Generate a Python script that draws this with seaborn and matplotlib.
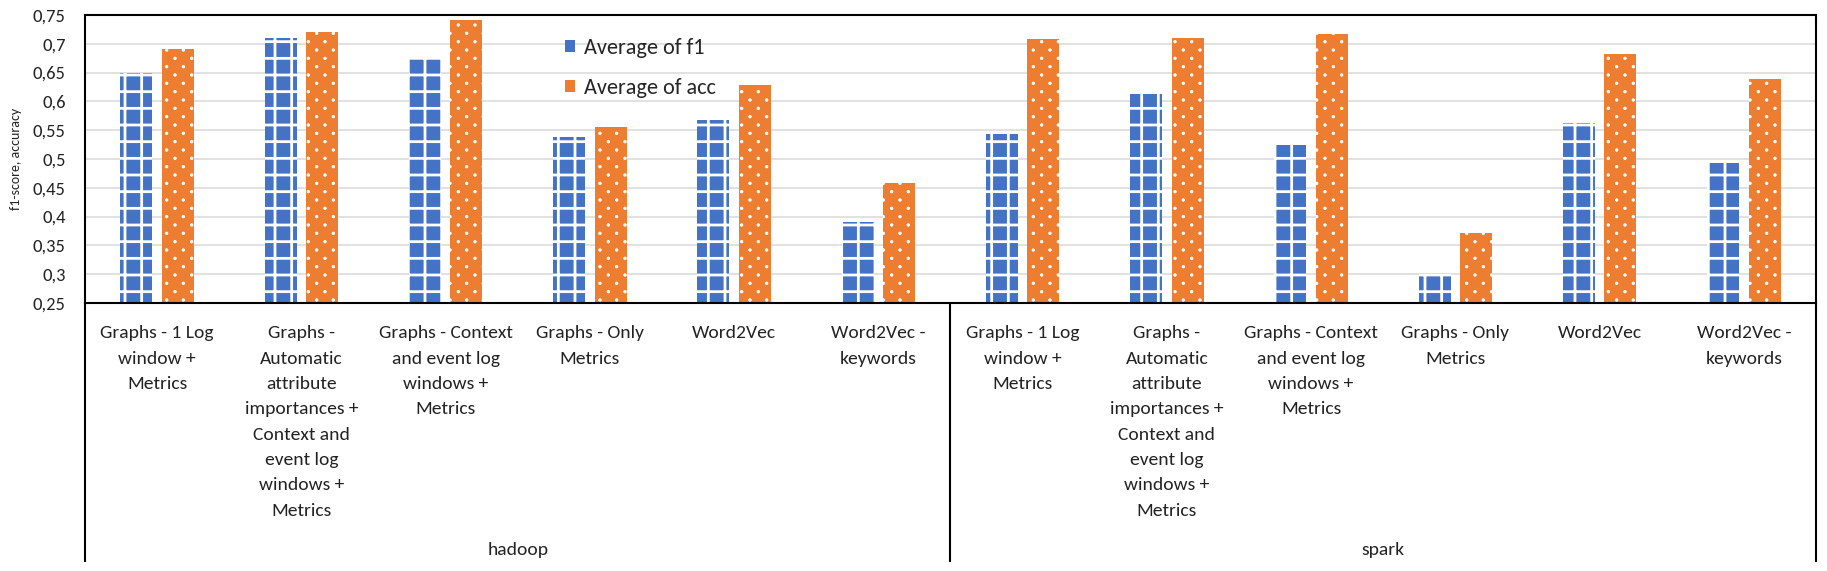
import numpy as np
import pandas as pd
import matplotlib
matplotlib.use("Agg")
import matplotlib.pyplot as plt
import matplotlib.transforms as mtransforms
import matplotlib.hatch as mhatch
from matplotlib.path import Path
from matplotlib import font_manager
from matplotlib.patches import Patch
from matplotlib.ticker import FuncFormatter
import seaborn as sns

# ---------------- data ----------------
groups = ["hadoop", "spark"]
methods = [
    "Graphs - 1 Log\nwindow +\nMetrics",
    "Graphs -\nAutomatic\nattribute\nimportances +\nContext and\nevent log\nwindows +\nMetrics",
    "Graphs - Context\nand event log\nwindows +\nMetrics",
    "Graphs - Only\nMetrics",
    "Word2Vec",
    "Word2Vec -\nkeywords",
]
series_names = ["Average of f1", "Average of acc"]
hadoop_f1 = [0.650, 0.710, 0.675, 0.539, 0.568, 0.390]
hadoop_acc = [0.691, 0.720, 0.742, 0.556, 0.629, 0.458]
spark_f1 = [0.543, 0.612, 0.524, 0.300, 0.563, 0.493]
spark_acc = [0.708, 0.710, 0.717, 0.371, 0.683, 0.639]
y_ticks = [0.25, 0.30, 0.35, 0.40, 0.45, 0.50, 0.55, 0.60, 0.65, 0.70, 0.75]
y_label = "f1-score, accuracy"


# ---------------- custom dotted hatch (staggered, rows twice as dense) ----------------
class StaggeredDots(mhatch.HatchPatternBase):
    size = 0.075

    def __init__(self, hatch, density):
        n = hatch.count(".") * density
        self.ncols = n
        self.nrows = 2 * n
        self.shape = Path.unit_circle()
        self.positions = []
        if n:
            for r in range(self.nrows + 1):
                yy = r / self.nrows
                if r % 2 == 0:
                    xs = np.linspace(0, 1, self.ncols + 1)
                else:
                    xs = np.linspace(0.5 / self.ncols, 1 - 0.5 / self.ncols, self.ncols)
                for xx in xs:
                    self.positions.append((xx, yy))
        self.num_vertices = len(self.positions) * len(self.shape.vertices)

    def set_vertices_and_codes(self, vertices, codes):
        nv = len(self.shape.vertices)
        sv = self.shape.vertices * (self.size / self.ncols)
        cur = 0
        for (xx, yy) in self.positions:
            vertices[cur:cur + nv] = sv + np.array([xx, yy])
            codes[cur:cur + nv] = self.shape.codes
            cur += nv


_orig_types = list(mhatch._hatch_types)
try:
    mhatch._hatch_types[:] = [StaggeredDots if t is mhatch.SmallFilledCircles else t
                              for t in _orig_types]
except Exception:
    mhatch._hatch_types[:] = _orig_types

# ---------------- style ----------------
BLUE = "#4472C4"
ORANGE = "#ED7D31"
sns.set_style("white")
names = {f.name for f in font_manager.fontManager.ttflist}
if "Carlito" in names:
    fam = "Carlito"
    fs_lab, fs_tick, fs_leg, fs_ylab = 14.0, 13.3, 16.0, 10.0
else:
    fam = "Lato" if "Lato" in names else "DejaVu Sans"
    fs_lab, fs_tick, fs_leg, fs_ylab = 12.3, 11.7, 14.3, 9.0
plt.rcParams["font.family"] = [fam, "DejaVu Sans"]
plt.rcParams["hatch.linewidth"] = 2.0

W, H = 1827, 571
fig = plt.figure(figsize=(W / 100, H / 100), dpi=100)
ax_l, ax_r, ax_t, ax_b = 85, 1816, 15, 303
ax = fig.add_axes([ax_l / W, (H - ax_b) / H, (ax_r - ax_l) / W, (ax_b - ax_t) / H])

rows = []
for g, f1s, accs in [("hadoop", hadoop_f1, hadoop_acc), ("spark", spark_f1, spark_acc)]:
    for m, f, a in zip(methods, f1s, accs):
        key = f"{g}: {m}"
        rows.append((key, series_names[0], f))
        rows.append((key, series_names[1], a))
df = pd.DataFrame(rows, columns=["key", "metric", "value"])
order = [f"{g}: {m}" for g in groups for m in methods]

sns.barplot(data=df, x="key", y="value", hue="metric", order=order,
            hue_order=series_names, palette=[BLUE, ORANGE], saturation=1,
            width=0.573, gap=0.225, errorbar=None, legend=False, ax=ax)

for cont, hatch, hlw in zip(ax.containers, ["+", "."], [2.0, 0.6]):
    for bar in cont:
        bar.set_hatch(hatch)
        bar.set_edgecolor("white")
        bar.set_linewidth(0)
        if hasattr(bar, "set_hatch_linewidth"):
            bar.set_hatch_linewidth(hlw)

ax.set_xlim(-0.5, len(order) - 0.5)
ax.set_ylim(y_ticks[0], y_ticks[-1])
ax.set_yticks(y_ticks)
ax.yaxis.set_major_formatter(FuncFormatter(lambda v, p: f"{v:g}".replace(".", ",")))
ax.tick_params(axis="y", length=0, pad=14, labelsize=fs_tick, labelcolor="#222222")
ax.set_xticks(range(len(order)))
ax.set_xticklabels(methods * len(groups), fontsize=fs_lab, linespacing=1.72,
                   ha="center", va="top", multialignment="center", color="#222222")
ax.tick_params(axis="x", length=0, pad=16)
ax.set_xlabel("")
ax.set_ylabel(y_label, fontsize=fs_ylab, color="#222222")
ax.yaxis.set_label_coords(-0.0364, 0.5)

ax.yaxis.grid(True, color="#D9D9D9", lw=1.1)
ax.xaxis.grid(False)
ax.set_axisbelow(True)
for s in ax.spines.values():
    s.set_visible(True)
    s.set_color("black")
    s.set_linewidth(1.5)

trans = mtransforms.blended_transform_factory(ax.transData, ax.transAxes)
y_low = (ax_b - 562) / (ax_b - ax_t)
y_grp = (ax_b - 550) / (ax_b - ax_t)
n = len(methods)
for xv in [-0.5, n - 0.5, 2 * n - 0.5]:
    ax.plot([xv, xv], [0, y_low], transform=trans, color="black", lw=1.5,
            clip_on=False, solid_capstyle="butt")
for i, g in enumerate(groups):
    ax.text(i * n + (n - 1) / 2, y_grp, g, transform=trans, ha="center",
            va="center", fontsize=fs_lab, color="#222222")

handles = [Patch(facecolor=BLUE, edgecolor="none"), Patch(facecolor=ORANGE, edgecolor="none")]
ax.legend(handles, series_names, loc="center left", bbox_to_anchor=(0.2773, 0.816),
          frameon=False, borderpad=0, borderaxespad=0, handlelength=0.45,
          handleheight=0.5, handletextpad=0.4, labelspacing=0.9, fontsize=fs_leg)

try:
    fig.savefig("out.png", dpi=100)
except Exception:
    mhatch._hatch_types[:] = _orig_types
    Path.hatch.cache_clear() if hasattr(Path.hatch, "cache_clear") else None
    fig.savefig("out.png", dpi=100)
